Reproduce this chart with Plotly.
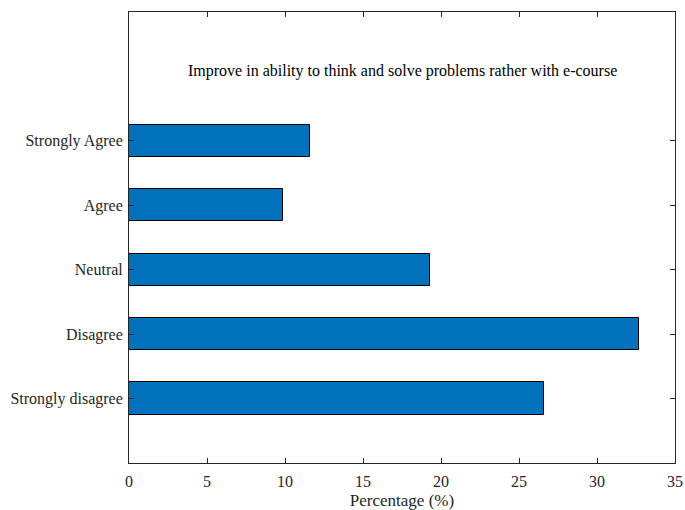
import plotly.graph_objects as go

categories = ["Strongly disagree", "Disagree", "Neutral", "Agree", "Strongly Agree"]
positions = [1, 2, 3, 4, 5]
values = [26.6, 32.7, 19.3, 9.9, 11.6]
x_ticks = [0, 5, 10, 15, 20, 25, 30, 35]
title_text = "Improve in ability to think and solve problems rather with e-course"

font = "Liberation Serif, Times New Roman, serif"
axis_color = "#262626"

fig = go.Figure()
fig.add_trace(go.Bar(
    x=values, y=positions, orientation="h", width=0.5,
    marker=dict(color="#0072BD", line=dict(color="#000000", width=1)),
    showlegend=False,
))

fig.add_annotation(
    x=0.5, xref="paper", y=6.09, yref="y",
    text=title_text, showarrow=False,
    font=dict(family=font, size=16, color="#000000"),
)

fig.update_layout(
    width=685, height=510, autosize=False,
    margin=dict(l=129, r=10, t=12, b=47, autoexpand=False),
    paper_bgcolor="white", plot_bgcolor="white",
    font=dict(family=font, size=16, color=axis_color),
    bargap=0,
)
fig.update_xaxes(
    range=[0, 35], tickvals=x_ticks, ticks="inside", ticklen=5,
    tickcolor=axis_color, showline=True, linecolor=axis_color, linewidth=1,
    mirror="ticks", showgrid=False, zeroline=False, automargin=False,
    ticklabelstandoff=4,
    title=dict(text="Percentage (%)", font=dict(family=font, size=17, color=axis_color), standoff=4),
    tickfont=dict(family=font, size=16, color=axis_color),
)
fig.update_yaxes(
    range=[0, 7], tickvals=positions, ticktext=categories, ticks="inside", ticklen=5,
    tickcolor=axis_color, showline=True, linecolor=axis_color, linewidth=1,
    mirror="ticks", showgrid=False, zeroline=False, automargin=False,
    ticklabelstandoff=2,
    tickfont=dict(family=font, size=16, color=axis_color),
)

fig.write_html(
    "out.html",
    config={"responsive": False, "displayModeBar": False},
    post_script="document.body.style.margin='0';document.body.style.overflow='hidden';",
)
